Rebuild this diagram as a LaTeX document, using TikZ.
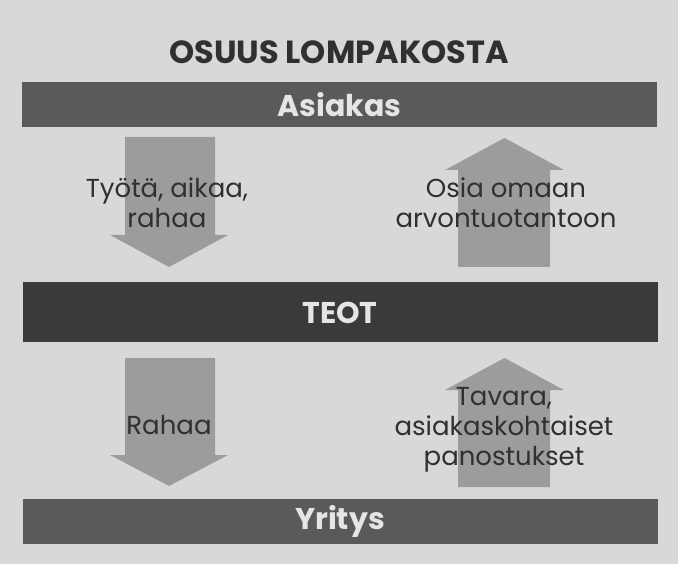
\documentclass[tikz,border=0pt]{standalone}
\usepackage{fontspec}
\setmainfont{Poppins}
\usetikzlibrary{positioning}
\definecolor{paper}{HTML}{D8D8D8}
\definecolor{barfill}{HTML}{5A5A5A}
\definecolor{teotfill}{HTML}{3A3A3A}
\definecolor{arrowfill}{HTML}{9C9C9C}
\definecolor{ink}{HTML}{303030}
\tikzset{
  headline/.style={text=ink, font=\bfseries\fontsize{32}{32}\selectfont, inner sep=0pt},
  bar/.style={fill=barfill, minimum width=635pt, minimum height=45pt, inner sep=0pt,
    text=white!90!black, font=\bfseries\fontsize{30}{30}\selectfont},
  flow/.style={fill=arrowfill},
  flowtext/.style={align=center, text=ink, inner sep=0pt, font=\fontsize{26}{30}\selectfont},
}

\begin{document}
\begin{tikzpicture}[x=1pt, y=-1pt]
        \fill[paper] (0, 0) rectangle (678, 564);
        \node[headline] (title) at (339, 52) {OSUUS LOMPAKOSTA};
        \node[bar] (asiakas) at (339.5, 105) {Asiakas};
        \node[bar, fill=teotfill, minimum height=60pt] (teot) at (340, 312.5) {TEOT};
        \node[bar] (yritys) at (340, 521.5) {Yritys};
        \fill[flow] (125, 137) -- (215, 137) -- (215, 235) -- (228, 235) -- (169, 267) -- (110, 235) -- (125, 235) -- cycle;
        \fill[flow] (458, 267) -- (458, 170) -- (445, 170) -- (504.5, 138) -- (564, 170) -- (550, 170) -- (550, 267) -- cycle;
        \fill[flow] (125, 358) -- (215, 358) -- (215, 455) -- (228, 455) -- (169, 486) -- (110, 455) -- (125, 455) -- cycle;
        \fill[flow] (458, 487) -- (458, 390) -- (445, 390) -- (504.5, 358) -- (564, 390) -- (550, 390) -- (550, 487) -- cycle;
        \node[flowtext] (work) at (167, 203) {Työtä, aikaa,\\rahaa};
        \node[flowtext] (parts) at (506, 203) {Osia omaan\\arvontuotantoon};
        \node[flowtext] (money) at (169, 425) {Rahaa};
        \node[flowtext] (goods) at (504, 430) {Tavara,\\asiakaskohtaiset\\panostukset};
      \end{tikzpicture}
\end{document}
